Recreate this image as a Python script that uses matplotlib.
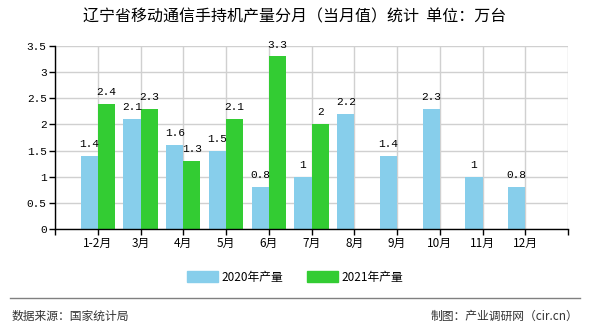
import matplotlib
matplotlib.use("Agg")
from matplotlib import pyplot as plt
from matplotlib.patches import Patch

plt.rcParams['font.family'] = ['Noto Sans CJK SC', 'DejaVu Sans']

months = ["1-2月", "3月", "4月", "5月", "6月", "7月", "8月", "9月", "10月", "11月", "12月"]
prod_2020 = [1.4, 2.1, 1.6, 1.5, 0.8, 1, 2.2, 1.4, 2.3, 1, 0.8]
prod_2021 = [2.4, 2.3, 1.3, 2.1, 3.3, 2]
yticks = [0, 0.5, 1, 1.5, 2, 2.5, 3, 3.5]
ytick_labels = ["0", "0.5", "1", "1.5", "2", "2.5", "3", "3.5"]

c2020 = "#87ceeb"
c2021 = "#33cc33"
mono = ['Liberation Mono', 'DejaVu Sans Mono']

fig = plt.figure(figsize=(5.9, 3.3), dpi=100)
ax = fig.add_axes([55 / 590, 1 - 229 / 330, 513 / 590, 183 / 330])

w = 0.4
x1 = [i - w / 2 for i in range(len(prod_2020))]
x2 = [i + w / 2 for i in range(len(prod_2021))]
ax.bar(x1, prod_2020, width=w, color=c2020, zorder=2)
ax.bar(x2, prod_2021, width=w, color=c2021, zorder=2)

def fmt(v):
    return "%g" % v

for x, v in zip(x1, prod_2020):
    ax.annotate(fmt(v), (x, v), xytext=(0, 5), textcoords="offset points",
                ha="center", va="bottom", fontsize=8, family=mono)
for x, v in zip(x2, prod_2021):
    ax.annotate(fmt(v), (x, v), xytext=(0, 5), textcoords="offset points",
                ha="center", va="bottom", fontsize=8, family=mono)

ax.set_xlim(-1, len(months))
ax.set_ylim(0, 3.5)
ax.set_xticks(range(-1, len(months) + 1))
ax.set_xticklabels([""] + months + [""], fontsize=8.5)
ax.set_yticks(yticks)
ax.set_yticklabels(ytick_labels, fontsize=8, family=mono)
ax.tick_params(axis="both", length=4, width=1, color="black", pad=2)
ax.grid(True, color="#d0d0d0", linewidth=1, zorder=0)
ax.set_axisbelow(True)
for s in ["top", "right"]:
    ax.spines[s].set_visible(False)
for s in ["left", "bottom"]:
    ax.spines[s].set_color("black")
    ax.spines[s].set_linewidth(1)

fig.text(0.5, 1 - 17 / 330, "辽宁省移动通信手持机产量分月（当月值）统计  单位：万台",
         ha="center", va="center", fontsize=11.5)

handles = [Patch(color=c2020, label="2020年产量"), Patch(color=c2021, label="2021年产量")]
fig.legend(handles=handles, loc="center", bbox_to_anchor=(0.5, 1 - 277 / 330), ncol=2,
           frameon=False, fontsize=8.5, handlelength=2.6, handleheight=1.0, columnspacing=2.0,
           handletextpad=0.3)

fig.add_artist(plt.Line2D([10 / 590, 580 / 590], [1 - 298 / 330, 1 - 298 / 330],
                          color="#808080", linewidth=1))
fig.text(12 / 590, 1 - 316 / 330, "数据来源：国家统计局", ha="left", va="center",
         fontsize=8.5, color="#333333")
fig.text(578 / 590, 1 - 316 / 330, "制图：产业调研网（cir.cn）", ha="right", va="center",
         fontsize=8.5, color="#333333")

fig.savefig("out.png", dpi=100)
